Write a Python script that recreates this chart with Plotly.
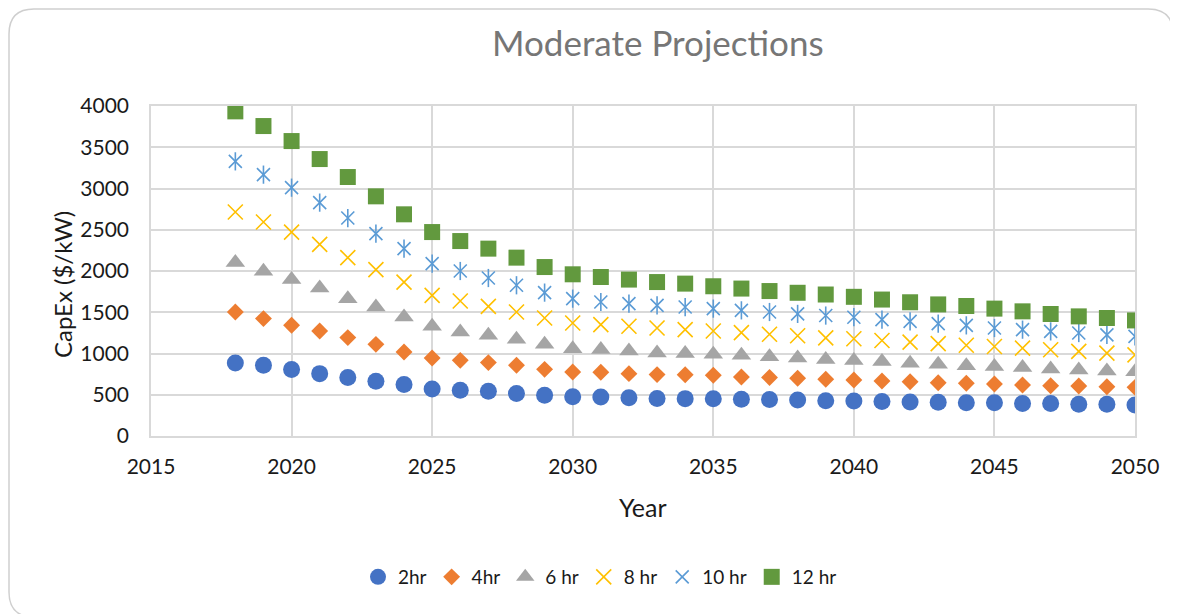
import plotly.graph_objects as go

years = list(range(2018, 2051))

capex_2hr = [885, 857, 805, 756, 708, 663, 623, 570, 554, 542, 514, 493, 475, 473, 465, 455, 453,
             452, 445, 443, 435, 428, 423, 419, 411, 410, 403, 402, 395, 393, 386, 384, 375]
capex_4hr = [1503, 1423, 1342, 1273, 1193, 1111, 1018, 945, 917, 890, 857, 808, 776, 772, 756, 744, 742,
             736, 716, 710, 700, 688, 679, 667, 658, 646, 639, 630, 618, 610, 606, 597, 590]
capex_6hr = [2102, 1996, 1896, 1794, 1665, 1563, 1442, 1330, 1261, 1220, 1172, 1111, 1059, 1047, 1030, 1006, 999,
             990, 978, 962, 945, 928, 914, 902, 882, 870, 853, 841, 829, 813, 801, 789, 780]
capex_8hr = [2715, 2594, 2472, 2323, 2162, 2017, 1866, 1705, 1636, 1572, 1503, 1430, 1370, 1350, 1330, 1309, 1289,
             1273, 1253, 1233, 1215, 1190, 1179, 1158, 1138, 1120, 1100, 1085, 1065, 1045, 1025, 1004, 984]
capex_10hr = [3329, 3168, 3010, 2829, 2642, 2453, 2271, 2089, 2000, 1915, 1827, 1738, 1665, 1624, 1605, 1584, 1563,
              1544, 1523, 1503, 1480, 1460, 1440, 1410, 1390, 1362, 1341, 1309, 1289, 1268, 1248, 1225, 1207]
capex_12hr = [3935, 3757, 3575, 3357, 3139, 2905, 2687, 2472, 2363, 2271, 2162, 2048, 1960, 1927, 1896, 1866, 1847,
              1815, 1787, 1757, 1736, 1715, 1687, 1654, 1621, 1595, 1576, 1544, 1511, 1479, 1450, 1430, 1401]

FONT = "Lato"
OFF = 8  # page body margin
W, H = 1178 - OFF, 614 - OFF
# plot area in page pixels
L, R, T, B = 151, 1135, 106, 436


def px(x):
    return (x - L) / (R - L)


def py(y):
    return (B - y) / (B - T)


fig = go.Figure()

series = [
    ("2hr", capex_2hr, "circle", 17, "#4472C4", 0),
    ("4hr", capex_4hr, "diamond", 13, "#ED7D31", 0),
    ("6 hr", capex_6hr, "triangle-up", 17, "#A5A5A5", 0),
    ("8 hr", capex_8hr, "x-thin-open", 15, "#FFC000", 1.6),
    ("10 hr", capex_10hr, "x-thin-open", 13, "#5B9BD5", 1.6),
    ("12 hr", capex_12hr, "square", 16, "#62993E", 0),
]
for name, vals, sym, size, color, lw in series:
    fig.add_trace(go.Scatter(
        x=years, y=vals, mode="markers", name=name, legendgroup=name,
        marker=dict(symbol=sym, size=size, color=color,
                    line=dict(width=lw, color=color)),
    ))
    if name == "10 hr":
        # vertical stroke to turn the X into an Excel-style asterisk
        fig.add_trace(go.Scatter(
            x=years, y=vals, mode="markers", legendgroup=name, showlegend=False,
            marker=dict(symbol="line-ns-open", size=13, color=color,
                        line=dict(width=1.6, color=color)),
        ))

# rounded chart frame
fx0, fx1 = px(9), px(1173)
fy0, fy1 = py(617), py(9)
rx, ry = 25 / (R - L), 25 / (B - T)
frame = (f"M{fx0},{fy0 + ry} Q{fx0},{fy0} {fx0 + rx},{fy0} L{fx0 + rx},{py(640)} "
         f"M{fx0},{fy0 + ry} L{fx0},{fy1 - ry} Q{fx0},{fy1} {fx0 + rx},{fy1} "
         f"L{fx1 - rx},{fy1} Q{fx1},{fy1} {fx1},{fy1 - ry} L{fx1},{py(640)}")
fig.add_shape(type="path", path=frame, xref="paper", yref="paper",
              line=dict(color="#cfcfcf", width=1.5), layer="below")

fig.add_annotation(text="Moderate Projections", x=px(658), y=py(42), xref="paper", yref="paper",
                   showarrow=False, font=dict(family=FONT, size=35, color="#767676"),
                   xanchor="center", yanchor="middle")
fig.add_annotation(text="CapEx ($/kW)", x=px(62), y=py(285), xref="paper", yref="paper",
                   showarrow=False, textangle=-90, font=dict(family=FONT, size=24, color="#1a1a1a"),
                   xanchor="center", yanchor="middle")
fig.add_annotation(text="Year", x=px(643), y=py(507), xref="paper", yref="paper",
                   showarrow=False, font=dict(family=FONT, size=25, color="#1a1a1a"),
                   xanchor="center", yanchor="middle")

axis_style = dict(showgrid=True, gridcolor="#d9d9d9", gridwidth=1.5, zeroline=False,
                  showline=True, linecolor="#d9d9d9", linewidth=1.5, mirror=True,
                  ticks="", tickfont=dict(family=FONT, size=21, color="#1a1a1a"))
fig.update_xaxes(range=[2015, 2050], dtick=5, tick0=2015, ticklabelstandoff=11, **axis_style)
fig.update_yaxes(range=[0, 4000], dtick=500, tick0=0, ticklabelstandoff=16, **axis_style)

fig.update_layout(
    width=W, height=H,
    margin=dict(l=L - OFF, r=1178 - R, t=T - OFF, b=614 - B),
    plot_bgcolor="white", paper_bgcolor="white",
    font=dict(family=FONT),
    showlegend=True,
    legend=dict(orientation="h", x=px(600), y=py(577), xanchor="center", yanchor="middle",
                font=dict(family=FONT, size=19, color="#1a1a1a"), itemwidth=30),
)

fig.write_html("out.html")
